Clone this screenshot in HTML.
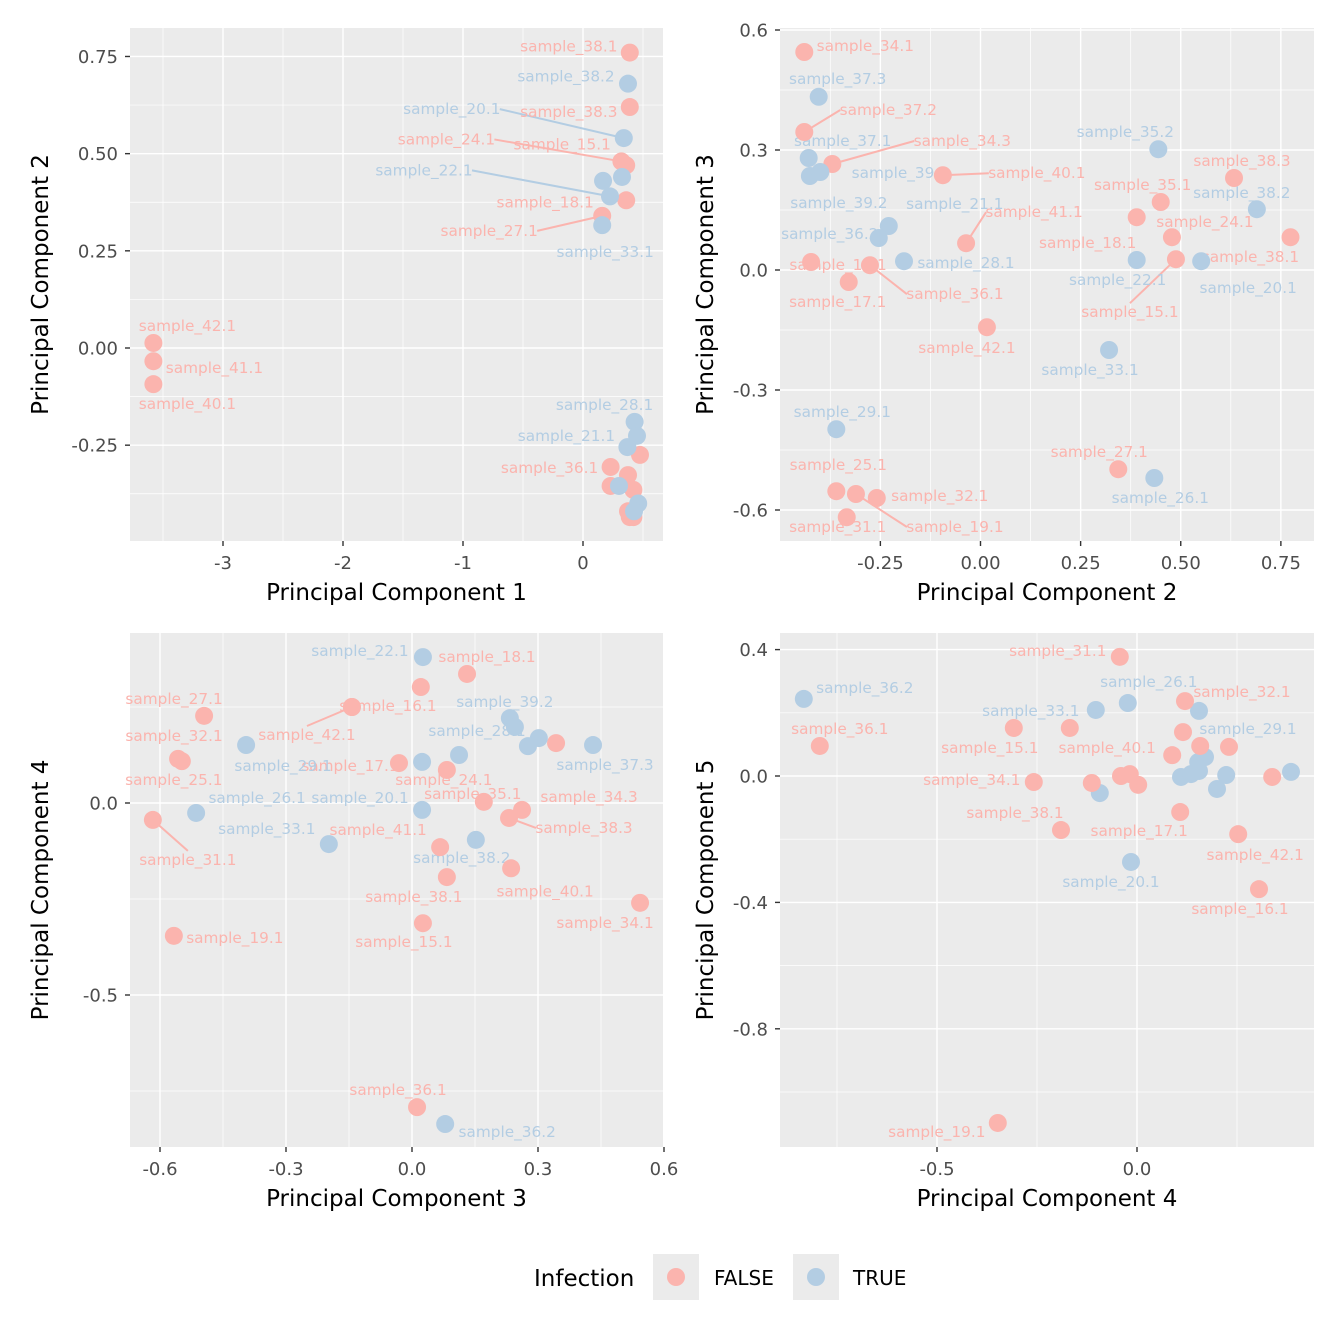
<!DOCTYPE html>
<html><head><meta charset="utf-8"><style>
html,body{margin:0;padding:0;background:#fff;}
svg{display:block;font-family:"DejaVu Sans","Liberation Sans",sans-serif;}
</style></head><body>
<svg id="chart" width="1344" height="1344" viewBox="0 0 1344 1344" xmlns="http://www.w3.org/2000/svg"></svg>
<script>
// ---------- data (TRUE=1, FALSE=0) ----------
const p1x=[0.39,0.39,0.32,0.36,0.36,0.16,-3.58,-3.58,-3.58,0.475,0.23,0.375,0.23,0.42,0.375,0.39,0.42,
 0.375,0.34,0.325,0.167,0.225,0.16,0.43,0.45,0.37,0.3,0.46,0.425];
const p1y=[0.76,0.62,0.48,0.47,0.38,0.34,0.013,-0.034,-0.093,-0.275,-0.306,-0.327,-0.355,-0.365,-0.42,-0.435,-0.435,
 0.68,0.54,0.44,0.43,0.39,0.316,-0.19,-0.226,-0.255,-0.355,-0.40,-0.42];
const p1g=[0,0,0,0,0,0,0,0,0,0,0,0,0,0,0,0,0, 1,1,1,1,1,1,1,1,1,1,1,1];
const p1lab=["sample_38.1","sample_38.3","sample_24.1","sample_15.1","sample_18.1","sample_27.1","sample_42.1","sample_41.1","sample_40.1","","sample_36.1","","","","","","",
 "sample_38.2","sample_20.1","","","sample_22.1","sample_33.1","sample_28.1","","sample_21.1","","",""];
const p1dx=[-61,-61,-175,-64,-81,-113,34,61,34,0,-61,0,0,0,0,0,0, -62,-172,0,0,-186,3,-30,0,-61,0,0,0];
const p1dy=[-6,5,-22,-21,2,15,-17,7,20,0,1,0,0,0,0,0,0, -7,-29,0,0,-26,27,-17,0,-11,0,0,0];
const p1seg=[0,0,1,0,0,1,0,0,0,0,0,0,0,0,0,0,0, 0,1,0,0,1,0,0,0,0,0,0,0];

const p2x=[-0.44,-0.44,-0.37,-0.094,0.633,0.45,0.39,0.478,-0.036,0.774,0.488,-0.423,-0.276,-0.329,0.016,0.344,-0.36,-0.311,-0.259,-0.334,
 -0.404,-0.429,-0.426,-0.4,0.444,0.69,-0.229,-0.254,-0.191,0.39,0.551,0.321,-0.36,0.434];
const p2y=[0.545,0.345,0.265,0.237,0.23,0.17,0.132,0.082,0.067,0.082,0.027,0.02,0.012,-0.03,-0.143,-0.498,-0.553,-0.56,-0.57,-0.618,
 0.433,0.28,0.235,0.245,0.302,0.152,0.11,0.08,0.022,0.025,0.022,-0.2,-0.398,-0.52];
const p2g=[0,0,0,0,0,0,0,0,0,0,0,0,0,0,0,0,0,0,0,0, 1,1,1,1,1,1,1,1,1,1,1,1,1,1];
const p2lab=["sample_34.1","sample_37.2","sample_34.3","sample_40.1","sample_38.3","sample_35.1","sample_18.1","sample_24.1","sample_41.1","sample_38.1","sample_15.1","sample_16.1","sample_36.1","sample_17.1","sample_42.1","sample_27.1","sample_25.1","sample_19.1","sample_32.1","sample_31.1",
 "sample_37.3","sample_37.1","sample_39.2","sample_39.1","sample_35.2","sample_38.2","sample_21.1","sample_36.2","sample_28.1","sample_22.1","sample_20.1","sample_33.1","sample_29.1","sample_26.1"];
const p2dx=[61,84,130,94,8,-18,-49,33,68,-40,-46,27,85,-11,-20,-19,2,99,63,-9, 19,34,29,80,-33,-15,66,-49,62,-19,47,-19,6,6];
const p2dy=[-6,-22,-23,-2,-17,-17,26,-15,-31,20,53,3,29,20,21,-17,-26,33,-2,10, -18,-17,27,1,-17,-16,-22,-4,2,20,27,20,-17,20];
const p2seg=[0,1,1,1,0,0,0,0,1,0,1,0,1,0,0,0,0,1,0,0, 0,0,0,0,0,0,0,0,0,0,0,0,0,0];

const p3x=[-0.495,-0.143,-0.143,0.021,0.131,-0.557,-0.548,-0.031,0.083,0.343,0.171,0.262,0.231,-0.617,0.067,0.236,0.083,0.543,0.026,-0.567,0.012,
 0.026,0.233,0.245,0.302,0.276,0.431,-0.395,0.112,0.024,-0.514,0.024,0.152,-0.198,0.079];
const p3y=[0.227,0.25,0.25,0.302,0.336,0.115,0.109,0.104,0.086,0.156,0.003,-0.018,-0.039,-0.044,-0.115,-0.17,-0.193,-0.26,-0.313,-0.346,-0.792,
 0.38,0.221,0.198,0.169,0.148,0.151,0.151,0.125,0.107,-0.026,-0.018,-0.096,-0.107,-0.836];
const p3g=[0,0,0,0,0,0,0,0,0,0,0,0,0,0,0,0,0,0,0,0,0, 1,1,1,1,1,1,1,1,1,1,1,1,1,1];
const p3lab=["sample_27.1","sample_16.1","sample_42.1","","sample_18.1","sample_32.1","sample_25.1","sample_17.1","sample_24.1","","sample_35.1","sample_34.3","sample_38.3","sample_31.1","sample_41.1","sample_40.1","sample_38.1","sample_34.1","sample_15.1","sample_19.1","sample_36.1",
 "sample_22.1","sample_39.2","","","","sample_37.3","sample_29.1","sample_28.1","","sample_26.1","sample_20.1","sample_38.2","sample_33.1","sample_36.2"];
const p3dx=[-30,36,-45,0,20,-4,-8,-49,-3,0,-11,67,75,35,-62,34,-33,-35,-19,61,-19, -63,-5,0,0,0,12,37,18,0,61,-62,-14,-62,62];
const p3dy=[-17,-1,28,0,-17,-23,19,3,10,0,-8,-13,10,40,-17,23,20,20,19,2,-17, -6,-16,0,0,0,20,21,-24,0,-15,-12,18,-15,8];
const p3seg=[0,0,1,0,0,0,0,0,0,0,0,0,1,1,0,0,0,0,0,0,0, 0,0,0,0,0,0,0,0,0,0,0,0,0,0];

const p4x=[-0.833,-0.103,-0.023,0.155,0.17,0.153,0.11,0.135,0.155,0.223,0.2,0.385,-0.093,-0.015,
 -0.793,-0.043,0.12,-0.308,-0.168,0.115,0.23,0.158,0.088,-0.258,-0.113,-0.04,-0.018,0.003,0.338,0.108,-0.19,0.253,0.305,-0.348];
const p4y=[0.244,0.209,0.231,0.206,0.06,0.044,-0.003,0.006,0.016,0.003,-0.041,0.013,-0.054,-0.272,
 0.095,0.377,0.237,0.152,0.152,0.139,0.092,0.095,0.066,-0.019,-0.022,0,0.006,-0.028,-0.003,-0.114,-0.171,-0.184,-0.358,-1.098];
const p4g=[1,1,1,1,1,1,1,1,1,1,1,1,1,1, 0,0,0,0,0,0,0,0,0,0,0,0,0,0,0,0,0,0,0,0];
const p4lab=["sample_36.2","sample_33.1","sample_26.1","sample_29.1","","","","","","","","","","sample_20.1",
 "sample_36.1","sample_31.1","sample_32.1","sample_15.1","","","","","sample_40.1","sample_34.1","","","","","","sample_17.1","sample_38.1","sample_42.1","sample_16.1","sample_19.1"];
const p4dx=[61,-65,21,49,0,0,0,0,0,0,0,0,0,-20, 20,-62,57,-24,0,0,0,0,-65,-62,0,0,0,0,0,-41,-46,17,-19,-61];
const p4dy=[-11,1,-21,18,0,0,0,0,0,0,0,0,0,20, -17,-6,-9,20,0,0,0,0,-7,-2,0,0,0,0,0,19,-17,21,20,9];
const p4seg=[0,0,0,0,0,0,0,0,0,0,0,0,0,0, 0,0,0,0,0,0,0,0,0,0,0,0,0,0,0,0,0,0,0,0];

const t1x=[-3,-2,-1,0], t1xl=["-3","-2","-1","0"], t1y=[0.75,0.5,0.25,0,-0.25], t1yl=["0.75","0.50","0.25","0.00","-0.25"];
const t2x=[-0.25,0,0.25,0.5,0.75], t2xl=["-0.25","0.00","0.25","0.50","0.75"], t2y=[0.6,0.3,0,-0.3,-0.6], t2yl=["0.6","0.3","0.0","-0.3","-0.6"];
const t3x=[-0.6,-0.3,0,0.3,0.6], t3xl=["-0.6","-0.3","0.0","0.3","0.6"], t3y=[0,-0.5], t3yl=["0.0","-0.5"];
const t4x=[-0.5,0], t4xl=["-0.5","0.0"], t4y=[0.4,0,-0.4,-0.8], t4yl=["0.4","0.0","-0.4","-0.8"];

const COL=["#FBB4AE","#B3CDE3"];
const NS="http://www.w3.org/2000/svg";
const svg=document.getElementById('chart');
function mk(tag,attrs,parent){const e=document.createElementNS(NS,tag);for(const k in attrs)e.setAttribute(k,attrs[k]);(parent||svg).appendChild(e);return e;}

function panel(id,L,T,R,B,x0,xs,y0,ys,X,Y,G,LAB,DX,DY,SEG,tx,txl,ty,tyl,xt,yt,yOff){
  const g=mk('g',{});
  
  
  const sx=v=>x0+v*xs, sy=v=>y0-v*ys;
  const bg=mk('rect',{x:L,y:T,width:R-L,height:B-T,fill:'#EBEBEB'},g);
  
  
  const dxs=tx[1]-tx[0], dys=ty[1]-ty[0];
  for(let i=-1;i<tx.length;i++){const p=sx(tx[0]+(i+0.5)*dxs);if(p>L&&p<R){const l=mk('line',{x1:p,x2:p,y1:T,y2:B,stroke:'#fff','stroke-width':0.7},g);}}
  for(let i=-1;i<ty.length;i++){const p=sy(ty[0]+(i+0.5)*dys);if(p>T&&p<B){const l=mk('line',{x1:L,x2:R,y1:p,y2:p,stroke:'#fff','stroke-width':0.7},g);}}
  tx.forEach((v,i)=>{const p=sx(v);
    const l=mk('line',{x1:p,x2:p,y1:T,y2:B,stroke:'#fff','stroke-width':1.4},g);
    mk('line',{x1:p,x2:p,y1:B,y2:B+5,stroke:'#333','stroke-width':1.4},g);
    const t=mk('text',{x:p,y:B+28,'font-size':18,fill:'#4D4D4D','text-anchor':'middle'},g);t.textContent=txl[i];
    });
  ty.forEach((v,i)=>{const p=sy(v);
    const l=mk('line',{x1:L,x2:R,y1:p,y2:p,stroke:'#fff','stroke-width':1.4},g);
    mk('line',{x1:L-5,x2:L,y1:p,y2:p,stroke:'#333','stroke-width':1.4},g);
    const t=mk('text',{x:L-12,y:p+6.5,'font-size':18,fill:'#4D4D4D','text-anchor':'end'},g);t.textContent=tyl[i];
    });
  const xa=mk('text',{x:(L+R)/2,y:B+59,'font-size':23,fill:'#000','text-anchor':'middle'},g);xa.textContent=xt;
  
  const yx=L-yOff, yy=(T+B)/2;
  const ya=mk('text',{x:yx,y:yy,'font-size':23,fill:'#000','text-anchor':'middle',transform:`rotate(-90 ${yx} ${yy})`},g);ya.textContent=yt;
  
  // segments
  X.forEach((v,i)=>{if(!LAB[i]||!SEG[i])return;
    const px=sx(v),py=sy(Y[i]);const lx=px+DX[i],ly=py+DY[i];
    let ex,ey;
    if(Math.abs(DX[i])>50){ex=lx-Math.sign(DX[i])*48;ey=ly;}else{ex=lx;ey=ly-Math.sign(DY[i])*9;}
    const s=mk('line',{x1:px,y1:py,x2:ex,y2:ey,stroke:COL[G[i]],'stroke-width':2},g);
    });
  X.forEach((v,i)=>{if(!LAB[i])return;
    const t=mk('text',{x:sx(v)+DX[i],y:sy(Y[i])+DY[i]+5,'font-size':15.3,fill:COL[G[i]],'text-anchor':'middle'},g);t.textContent=LAB[i];
    });
  X.forEach((v,i)=>{const c=mk('circle',{cx:sx(v),cy:sy(Y[i]),r:9,fill:COL[G[i]]},g);
    
    });
}
panel('panel-pc1-pc2',130,28,663,541,583,120,348,388.7,p1x,p1y,p1g,p1lab,p1dx,p1dy,p1seg,t1x,t1xl,t1y,t1yl,'Principal Component 1','Principal Component 2',82);
panel('panel-pc2-pc3',780,28,1314,541,980.5,400.5,270,400,p2x,p2y,p2g,p2lab,p2dx,p2dy,p2seg,t2x,t2xl,t2y,t2yl,'Principal Component 2','Principal Component 3',67);
panel('panel-pc3-pc4',130,633,663,1147,412,420,803,384,p3x,p3y,p3g,p3lab,p3dx,p3dy,p3seg,t3x,t3xl,t3y,t3yl,'Principal Component 3','Principal Component 4',82);
panel('panel-pc4-pc5',780,633,1314,1147,1137,400,776,316,p4x,p4y,p4g,p4lab,p4dx,p4dy,p4seg,t4x,t4xl,t4y,t4yl,'Principal Component 4','Principal Component 5',67);
</script>
<svg style="position:absolute;left:0;top:0" width="1344" height="1344">
  <text x="534" y="1286" font-size="23" font-family="DejaVu Sans, Liberation Sans, sans-serif" fill="#000">Infection</text>
  <g>
    <rect x="653" y="1254" width="46" height="46" fill="#EBEBEB"/>
    <circle cx="676" cy="1277" r="9" fill="#FBB4AE"/>
    <text x="714" y="1285" font-size="20" font-family="DejaVu Sans, Liberation Sans, sans-serif" fill="#000">FALSE</text>
  </g>
  <g>
    <rect x="793" y="1254" width="46" height="46" fill="#EBEBEB"/>
    <circle cx="816" cy="1277" r="9" fill="#B3CDE3"/>
    <text x="853" y="1285" font-size="20" font-family="DejaVu Sans, Liberation Sans, sans-serif" fill="#000">TRUE</text>
  </g>
</svg>
</body></html>
